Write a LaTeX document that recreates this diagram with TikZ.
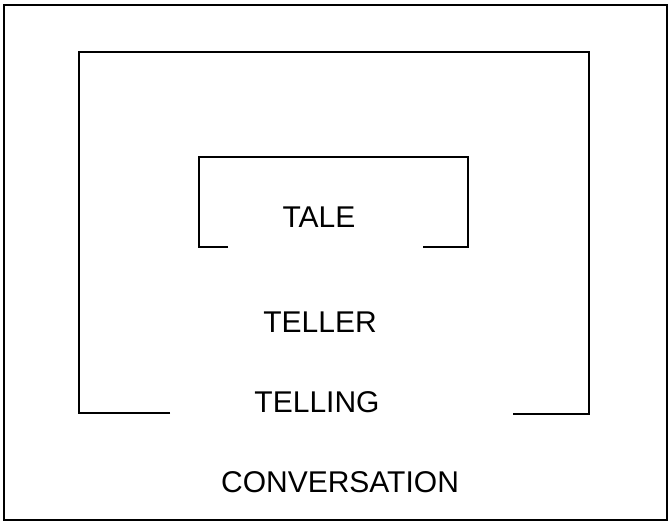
\documentclass[tikz,border=0pt]{standalone}
\usepackage{fontspec}
\setmainfont{Liberation Sans}
\begin{document}
\begin{tikzpicture}[
          x=0.5pt, y=-0.5pt,
          frame/.style={draw, line width=0.9pt},
          bracket/.style={draw, line width=0.7pt},
          label/.style={anchor=base, inner sep=0pt, font=\fontsize{15}{18}\selectfont}
        ]
        \useasboundingbox (0,0) rectangle (670,523);

        % Outer frame
        \draw[frame] (4,5) rectangle (667,520);

        % Middle bracket
        \draw[bracket] (170,413) -- (79,413) -- (79,52) -- (589,52) -- (589,414) -- (513,414);

        % Inner bracket
        \draw[bracket] (228,247) -- (199,247) -- (199,157) -- (468,157) -- (468,247) -- (423,247);

        % Labels
        \node[label] (tale) at (319,228) {TALE};
        \node[label] (teller) at (320,333) {TELLER};
        \node[label] (telling) at (317,413) {TELLING};
        \node[label] (conversation) at (340,493) {CONVERSATION};

      \end{tikzpicture}
\end{document}
